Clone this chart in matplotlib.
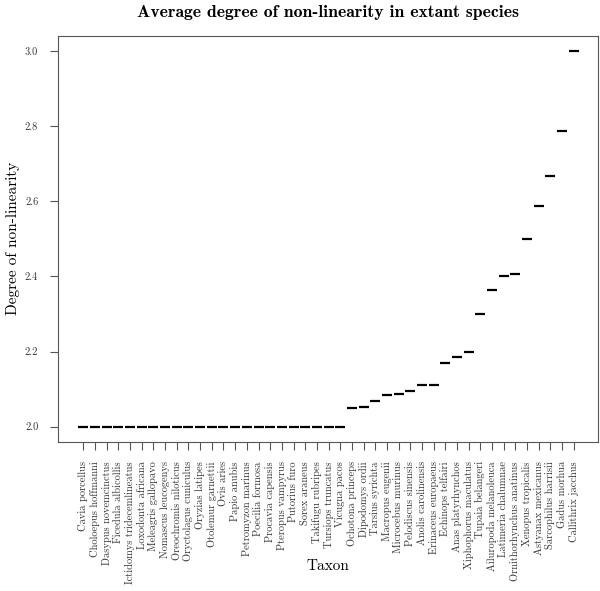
import matplotlib
matplotlib.use("Agg")
import matplotlib.pyplot as plt
import numpy as np

plt.rcParams['font.family'] = ['cmr10', 'DejaVu Serif']
plt.rcParams['axes.formatter.use_mathtext'] = True

taxa = [
    "Cavia porcellus", "Choloepus hoffmanni", "Dasypus novemcinctus",
    "Ficedula albicollis", "Ictidomys tridecemlineatus", "Loxodonta africana",
    "Meleagris gallopavo", "Nomascus leucogenys", "Oreochromis niloticus",
    "Oryctolagus cuniculus", "Oryzias latipes", "Otolemur garnettii",
    "Ovis aries", "Papio anubis", "Petromyzon marinus", "Poecilia formosa",
    "Procavia capensis", "Pteropus vampyrus", "Putorius furo", "Sorex araneus",
    "Takifugu rubripes", "Tursiops truncatus", "Vicugna pacos",
    "Ochotona princeps", "Dipodomys ordii", "Tarsius syrichta",
    "Macropus eugenii", "Microcebus murinus", "Pelodiscus sinensis",
    "Anolis carolinensis", "Erinaceus europaeus", "Echinops telfairi",
    "Anas platyrhynchos", "Xiphophorus maculatus", "Tupaia belangeri",
    "Ailuropoda melanoleuca", "Latimeria chalumnae", "Ornithorhynchus anatinus",
    "Xenopus tropicalis", "Astyanax mexicanus", "Sarcophilus harrisii",
    "Gadus morhua", "Callithrix jacchus",
]
degree = [2.0] * 23 + [
    2.05, 2.052, 2.068, 2.085, 2.088, 2.095, 2.11, 2.11,
    2.17, 2.186, 2.2, 2.3, 2.363, 2.4, 2.407, 2.5, 2.588,
    2.667, 2.786, 3.0,
]
yticks = [2.0, 2.2, 2.4, 2.6, 2.8, 3.0]

W, H = 600, 591
fig = plt.figure(figsize=(W / 100, H / 100), dpi=100)
left, right, top, bottom = 57.7, 598.3, 36, 441.7
ax = fig.add_axes([left / W, 1 - bottom / H, (right - left) / W, (bottom - top) / H])

x = np.arange(1, len(taxa) + 1)
ax.plot(x, degree, ls='none', marker='_', ms=7, mew=1.6, color='black')

ax.set_xlim(1 - 2.2, len(taxa) + 2.1)
ax.set_ylim(1.96, 3.04)
ax.set_xticks(x)
ax.set_xticklabels(taxa, rotation=90, fontsize=7.5)
ax.set_yticks(yticks)
ax.set_yticklabels([f"{v:.1f}" for v in yticks], fontsize=7.5)
ax.tick_params(color='#555555', length=6, width=0.8, labelcolor='#333333', pad=8)
for s in ax.spines.values():
    s.set_color('#555555')
    s.set_linewidth(0.8)

xc = (left + right) / 2 / W
yc = 1 - (top + bottom) / 2 / H
fig.text(13 / W, yc, "Degree of non-linearity", rotation=90,
         ha='center', va='center', fontsize=11)
fig.text(xc, 1 - 566 / H, "Taxon", ha='center', va='center', fontsize=11)

# title: scale the font so the text is about as wide as in the original
title = fig.text(xc, 1 - 13 / H, "Average degree of non-linearity in extant species",
                 ha='center', va='center', fontsize=11, family='cmb10')
r = fig.canvas.get_renderer()
w = title.get_window_extent(r).width
title.set_fontsize(11 * 380 / w)

fig.savefig("out.png", dpi=100)
